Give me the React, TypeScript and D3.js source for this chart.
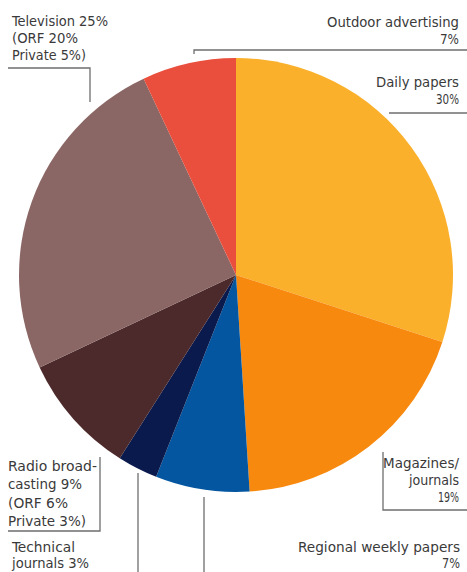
import React from "react";
import * as d3 from "d3";

// ---- data ----
const categories = [
  "Daily papers",
  "Magazines/journals",
  "Regional weekly papers",
  "Technical journals",
  "Radio broadcasting",
  "Television",
  "Outdoor advertising",
];
const shares = [30, 19, 7, 3, 9, 25, 7];
const sliceColors = ["#FBB02B", "#F8890F", "#03569F", "#0A1A4D", "#4C292B", "#8A6765", "#EA4E3C"];
const labelLines: string[][] = [
  ["Daily papers", "30%"],
  ["Magazines/", "journals", "19%"],
  ["Regional weekly papers", "7%"],
  ["Technical", "journals 3%"],
  ["Radio broad-", "casting 9%", "(ORF 6%", "Private 3%)"],
  ["Television 25%", "(ORF 20%", "Private 5%)"],
  ["Outdoor advertising", "7%"],
];

const W = 467;
const H = 572;
const cx = 236;
const cy = 275;
const R = 217;

type LabelLayout = {
  x: number;
  y: number;
  anchor: "start" | "end";
  lh: number;
  widths: number[];
  path: string;
};

const layouts: LabelLayout[] = [
  { x: 459, y: 87, anchor: "end", lh: 16.5, widths: [83, 23], path: "M389,113H467" },
  { x: 459, y: 468, anchor: "end", lh: 17, widths: [76, 50, 21], path: "M383,452V510H467" },
  { x: 460, y: 552, anchor: "end", lh: 15.5, widths: [162, 18], path: "M204,497V572" },
  { x: 12, y: 552, anchor: "start", lh: 15.5, widths: [63, 77], path: "M138,473V572" },
  { x: 8, y: 471, anchor: "start", lh: 18.3, widths: [89, 74, 60, 78], path: "M100,457V531H8" },
  { x: 12, y: 26, anchor: "start", lh: 17, widths: [96, 66, 74], path: "M8,68H90V102" },
  { x: 459, y: 27, anchor: "end", lh: 17, widths: [132, 19], path: "M194,54V50H467" },
];

export default function App() {
  const pie = d3
    .pie<number>()
    .sort(null)
    .value((d) => d)
    .startAngle(0)
    .endAngle(2 * Math.PI);
  const arcs = pie(shares);
  const arcGen = d3.arc<d3.PieArcDatum<number>>().innerRadius(0).outerRadius(R);

  return (
    <svg
      width={W}
      height={H}
      style={{ position: "absolute", left: 0, top: 0, background: "#fff" }}
      fontFamily="'Liberation Sans Narrow', 'DejaVu Sans Condensed', 'Liberation Sans', sans-serif"
    >
      <g transform={`translate(${cx},${cy})`}>
        {arcs.map((a, i) => (
          <path key={categories[i]} d={arcGen(a) || ""} fill={sliceColors[i]} />
        ))}
      </g>
      {layouts.map((l, i) => (
        <g key={categories[i]}>
          <path d={l.path} fill="none" stroke="#6e6e6e" strokeWidth={1.3} />
          {labelLines[i].map((line, j) => (
            <text
              key={j}
              x={l.x}
              y={l.y + j * l.lh}
              textAnchor={l.anchor}
              fontSize={14}
              fill="#3a3a3a"
              textLength={l.widths[j]}
              lengthAdjust="spacingAndGlyphs"
            >
              {line}
            </text>
          ))}
        </g>
      ))}
    </svg>
  );
}
